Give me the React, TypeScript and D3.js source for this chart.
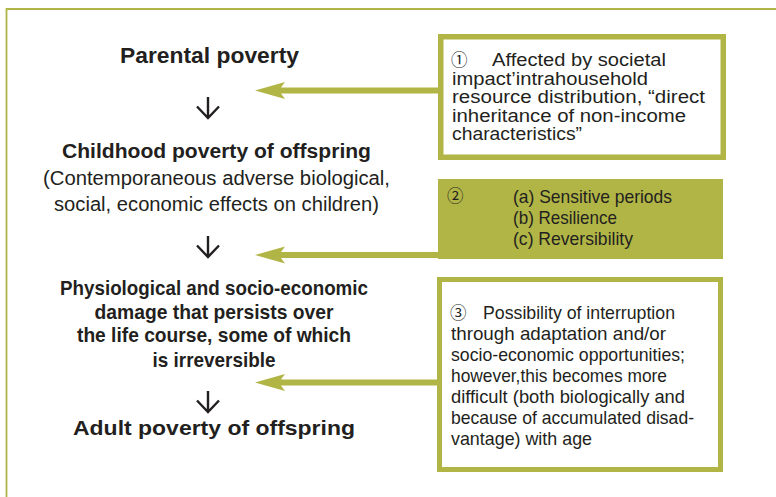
import React from "react";
import * as d3 from "d3";

// ---- content ----
const parentalLines = ["Parental poverty"];
const childhoodTitleLines = ["Childhood poverty of offspring"];
const childhoodSubLines = [
  "(Contemporaneous adverse biological,",
  "social, economic effects on children)",
];
const damageLines = [
  "Physiological and socio-economic",
  "damage that persists over",
  "the life course, some of which",
  "is irreversible",
];
const adultLines = ["Adult poverty of offspring"];
const markers = ["\u2460", "\u2461", "\u2462"];
const box1Lines = [
  "Affected by societal",
  "impact\u2019intrahousehold",
  "resource distribution, \u201Cdirect",
  "inheritance of non-income",
  "characteristics\u201D",
];
const box2Lines = ["(a) Sensitive periods", "(b) Resilience", "(c) Reversibility"];
const box3Lines = [
  "Possibility of interruption",
  "through adaptation and/or",
  "socio-economic opportunities;",
  "however,this becomes more",
  "difficult (both biologically and",
  "because of accumulated disad-",
  "vantage) with age",
];

// ---- layout (measured from reference) ----
const OLIVE = "#b1b546";
const INK = "#231f20";
const W = 776;
const H = 497;

type Block = {
  lines: string[];
  widths: number[];
  baselines: number[];
  cx?: number;
  x?: number;
  size: number;
  weight: number;
};

const centerBlocks: Block[] = [
  { lines: parentalLines, widths: [179], baselines: [63], cx: 209.5, size: 22, weight: 700 },
  { lines: childhoodTitleLines, widths: [309], baselines: [158], cx: 216.5, size: 20, weight: 700 },
  { lines: childhoodSubLines, widths: [347, 325], baselines: [184.5, 210.5], cx: 216.5, size: 20, weight: 400 },
  { lines: damageLines, widths: [308, 239, 274, 123], baselines: [295, 318.5, 342, 366.5], cx: 214, size: 21, weight: 700 },
  { lines: adultLines, widths: [282], baselines: [435], cx: 214, size: 21, weight: 700 },
];

const boxTextBlocks: Block[] = [
  {
    lines: box1Lines,
    widths: [174, 196, 253, 234, 130],
    baselines: [66, 84.5, 103, 121.5, 140],
    x: 452,
    size: 17.5,
    weight: 400,
  },
  { lines: box2Lines, widths: [159, 104, 120], baselines: [203, 224, 245], x: 513, size: 19, weight: 400 },
  {
    lines: box3Lines,
    widths: [192, 215, 234, 216, 234, 243, 141],
    baselines: [318.5, 339.5, 360.5, 381.5, 402.5, 423.5, 444.5],
    x: 451,
    size: 18.5,
    weight: 400,
  },
];
// first line of box1 and box3 starts after the marker
const firstLineX = [492, 513, 483];
const markerPos = [
  { x: 451, y: 66 },
  { x: 447, y: 202 },
  { x: 450, y: 318.5 },
];

const boxes = [
  { x0: 438, x1: 726, y0: 34, y1: 160, filled: false, border: 5.5 },
  { x0: 438, x1: 723, y0: 179, y1: 259, filled: true, border: 0 },
  { x0: 437, x1: 723, y0: 277, y1: 472, filled: false, border: 5 },
];

const sideArrowYs = [90.5, 255, 382.5];
const sideArrowTip = 255;
const downArrowTops = [97, 236, 391];
const downArrowX = 208;

const FONT = "'Liberation Sans', Arial, sans-serif";

function sideArrowPath(y: number, xTip: number, xEnd: number) {
  const p = d3.path();
  const half = 3;
  p.moveTo(xTip, y);
  p.lineTo(xTip + 30, y - 8.5);
  p.lineTo(xTip + 26, y - half);
  p.lineTo(xEnd, y - half);
  p.lineTo(xEnd, y + half);
  p.lineTo(xTip + 26, y + half);
  p.lineTo(xTip + 30, y + 8.5);
  p.closePath();
  return p.toString();
}

function downArrowPath(x: number, top: number) {
  const p = d3.path();
  const len = 21;
  p.moveTo(x, top);
  p.lineTo(x, top + len - 1);
  p.moveTo(x - 11, top + len - 11.5);
  p.lineTo(x, top + len);
  p.lineTo(x + 11, top + len - 11.5);
  return p.toString();
}

export default function App() {
  return (
    <svg
      width={W}
      height={H}
      viewBox={`0 0 ${W} ${H}`}
      style={{ position: "absolute", left: 0, top: 0, display: "block" }}
    >
      <rect x={0} y={0} width={W} height={H} fill="#ffffff" />
      {/* frame */}
      <path d={`M6.5,${H} V9 H${W}`} fill="none" stroke={OLIVE} strokeWidth={1.8} />

      {/* boxes */}
      {boxes.map((b, i) =>
        b.filled ? (
          <rect key={i} x={b.x0} y={b.y0} width={b.x1 - b.x0} height={b.y1 - b.y0} fill={OLIVE} />
        ) : (
          <rect
            key={i}
            x={b.x0 + b.border / 2}
            y={b.y0 + b.border / 2}
            width={b.x1 - b.x0 - b.border}
            height={b.y1 - b.y0 - b.border}
            fill="#ffffff"
            stroke={OLIVE}
            strokeWidth={b.border}
          />
        )
      )}

      {/* side arrows */}
      {sideArrowYs.map((y, i) => (
        <path key={i} d={sideArrowPath(y, sideArrowTip, boxes[i].x0 + 1)} fill={OLIVE} />
      ))}

      {/* down arrows */}
      {downArrowTops.map((t, i) => (
        <path
          key={i}
          d={downArrowPath(downArrowX, t)}
          fill="none"
          stroke={INK}
          strokeWidth={2.4}
          strokeLinejoin="miter"
        />
      ))}

      {/* center text */}
      {centerBlocks.map((b, bi) =>
        b.lines.map((line, li) => (
          <text
            key={`c${bi}-${li}`}
            x={(b.cx as number) - b.widths[li] / 2}
            y={b.baselines[li]}
            fontFamily={FONT}
            fontSize={b.size}
            fontWeight={b.weight}
            fill={INK}
            textLength={b.widths[li]}
            lengthAdjust="spacingAndGlyphs"
          >
            {line}
          </text>
        ))
      )}

      {/* box markers */}
      {markers.map((m, i) => (
        <text
          key={`m${i}`}
          x={markerPos[i].x}
          y={markerPos[i].y}
          fontFamily="'Noto Sans CJK JP', 'DejaVu Sans', sans-serif"
          fontSize={16.5}
          fill={INK}
        >
          {m}
        </text>
      ))}

      {/* box text */}
      {boxTextBlocks.map((b, bi) =>
        b.lines.map((line, li) => {
          const x = li === 0 ? firstLineX[bi] : (b.x as number);
          return (
            <text
              key={`b${bi}-${li}`}
              x={x}
              y={b.baselines[li]}
              fontFamily={FONT}
              fontSize={b.size}
              fontWeight={b.weight}
              fill={INK}
              textLength={b.widths[li]}
              lengthAdjust="spacingAndGlyphs"
            >
              {line}
            </text>
          );
        })
      )}
    </svg>
  );
}
